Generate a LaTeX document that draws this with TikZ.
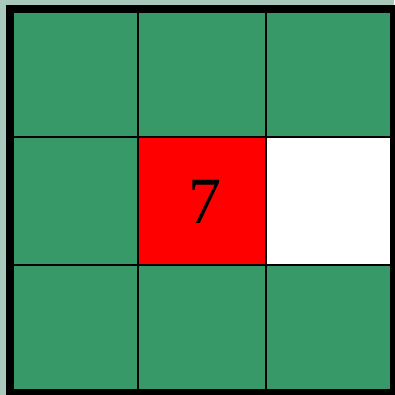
\documentclass[tikz,border=0pt]{standalone}
\usepackage{fontspec}
\setmainfont{Liberation Serif}
\usetikzlibrary{positioning}
\definecolor{bGreen}{HTML}{379968}
\definecolor{bBack}{HTML}{A9C9BD}

\begin{document}
\begin{tikzpicture}[x=1pt, y=-1pt,
      cell/.style={draw, line width=2pt, minimum size=128pt, inner sep=0pt, fill=bGreen}]
    \fill[bBack] (-10,-9) rectangle (384,386);
    \useasboundingbox (-10,-9) rectangle (384,386);
    \foreach \r in {0,1,2} {
      \foreach \c in {0,1,2} {
        \node[cell] (c\r\c) at (64+128*\c, 64+128*\r) {};
      }
    }
    \node[cell, fill=red] (c11) at (192,192) {};
    \node[cell, fill=white] (c12) at (320,192) {};
    \node[font=\fontsize{66}{66}\selectfont, inner sep=0pt] (val) at (195,193) {7};
    \draw[line width=8pt] (0,0) rectangle (384,384);
  \end{tikzpicture}
\end{document}
